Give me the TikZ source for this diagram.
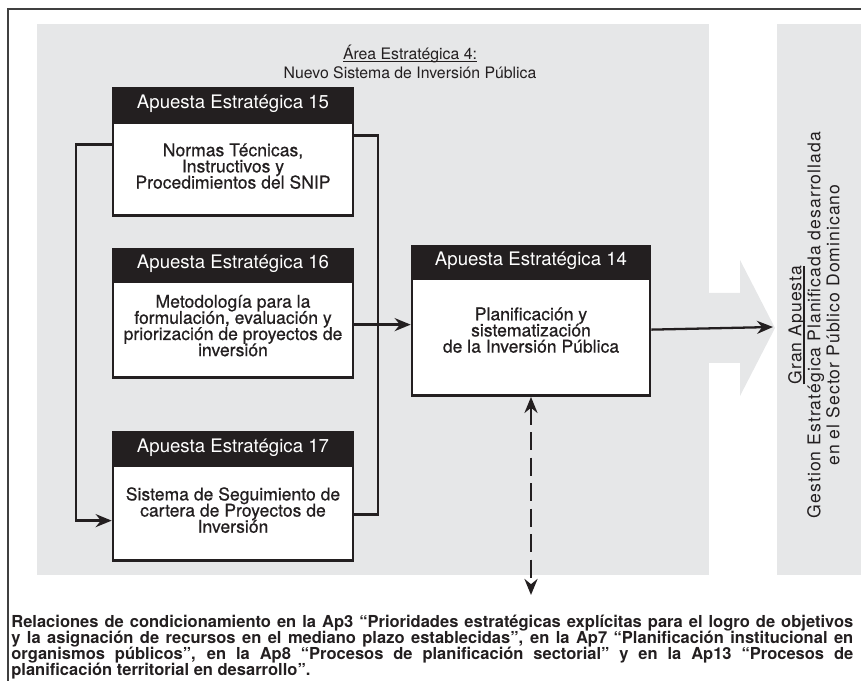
\documentclass[tikz,border=0pt]{standalone}
\usepackage{fontspec}
\setmainfont{TeX Gyre Heros}
\newfontfamily\medfont[FakeBold=0.6]{TeX Gyre Heros}
\newfontfamily\sidefont[LetterSpace=6]{TeX Gyre Heros}
\usetikzlibrary{arrows.meta,positioning}
\definecolor{panel}{RGB}{230,231,232}
\definecolor{ink}{RGB}{35,31,32}
\newcommand\tightlines{\lineskiplimit=-10pt\relax}
\newcommand\undl[1]{\setbox0\hbox{#1}\rlap{\rule[-1.9pt]{\wd0}{0.8pt}}\box0}
\tikzset{
  >={Stealth[length=3.2mm,width=2.6mm]},
  frame/.style={draw=black!75,line width=0.6pt},
  aphead/.style={fill=ink,draw=ink,line width=1.5pt,text=white,minimum width=48mm,
    minimum height=#1,inner sep=0pt,font=\fontsize{10.6}{12}\selectfont},
  aphead/.default=6.2mm,
  apbody/.style={fill=white,draw=ink,line width=1.5pt,minimum width=48mm,
    minimum height=#1,inner sep=0pt},
  apbody/.default=19mm,
  aptext/.style={align=center,inner sep=0pt,text=ink,
    font=\medfont\fontsize{10}{9.2}\selectfont\tightlines},
  link/.style={draw=ink,line width=1.3pt},
  dashlink/.style={draw=ink,line width=1.6pt,dash pattern=on 3.6mm off 1.5mm},
  title/.style={align=center,inner sep=0pt,text=ink,font=\fontsize{9}{10.8}\selectfont},
  side/.style={align=center,inner sep=0pt,text=ink,
    font=\sidefont\fontsize{10}{10.8}\selectfont\tightlines},
  note/.style={text width=16.84cm,align=justify,inner sep=0pt,text=ink,
    font=\bfseries\fontsize{9.4}{9.1}\selectfont\tightlines},
}
\begin{document}
\begin{tikzpicture}
  \useasboundingbox (0,0) rectangle (17.22,13.62);
  \draw[frame] (0.16,0) -- (0.16,13.44) -- (17.22,13.44);
  % grey areas
  \fill[panel] (0.74,2.12) rectangle (14.18,13.14);
  \fill[panel] (15.54,2.12) rectangle (17.22,13.14);
  \fill[panel] (14.17,7.76) -- (14.80,7.76) -- (14.80,8.42) -- (15.50,7.06)
    -- (14.80,5.70) -- (14.80,6.36) -- (14.17,6.36) -- cycle;
  \node[title] (area) at (8.20,12.39) {\undl{Área Estratégica 4:}\\Nuevo Sistema de Inversión Pública};
  % apuestas
  \node[aphead=6.4mm] (h15) at (4.66,11.54) {Apuesta Estratégica 15};
  \node[apbody=18.6mm,below=0pt of h15] (b15) {};
  \node[aptext] (t15) at ([yshift=0.6mm]b15.center) {Normas Técnicas,\\Instructivos y\\Procedimientos del SNIP};
  \node[aphead=6mm] (h16) at (4.66,8.34) {Apuesta Estratégica 16};
  \node[apbody=19.2mm,below=0pt of h16] (b16) {};
  \node[aptext] (t16) at ([yshift=0.8mm]b16.center) {Metodología para la\\formulación, evaluación y\\priorización de proyectos de\\inversión};
  \node[aphead] (h17) at (4.66,4.67) {Apuesta Estratégica 17};
  \node[apbody,below=0pt of h17] (b17) {};
  \node[aptext] (t17) at ([yshift=0.6mm]b17.center) {Sistema de Seguimiento de\\cartera de Proyectos de\\Inversión};
  \node[aphead=6mm,minimum width=47.6mm] (h14) at (10.62,8.40) {Apuesta Estratégica 14};
  \node[apbody=23.4mm,minimum width=47.6mm,below=0pt of h14] (b14) {};
  \node[aptext] (t14) at ([yshift=1.4mm]b14.center) {Planificación y\\sistematización\\de la Inversión Pública};
  % connectors
  \draw[link,->] ([yshift=4.9mm]b15.west) -- ++(-0.72,0) |- ([yshift=-1.5mm]b17.west);
  \draw[link] ([yshift=6.7mm]b15.east) -- ++(0.48,0) |- ([yshift=-0.3mm]b17.east);
  \draw[link,->] ([yshift=1mm]b16.east) -- ([yshift=1mm]b16.east -| b14.west);
  \coordinate (goal) at (15.46,7.08);
  \draw[link,->] ([yshift=1.5mm]b14.east) -- (goal);
  \node[side,rotate=90] (gran) at (16.28,7.12) {\undl{Gran Apuesta}\\Gestion Estratégica Planificada desarrollada\\en el Sector Público Dominicano};
  \node[note,anchor=north west] (rel) at (0.22,1.32) {Relaciones de condicionamiento en la Ap3 “Prioridades estratégicas explícitas para el logro de objetivos\linebreak
    y la asignación de recursos en el mediano plazo establecidas”, en la Ap7 “Planificación institucional en\linebreak
    organismos públicos”, en la Ap8 “Procesos de planificación sectorial” y en la Ap13 “Procesos de\linebreak
    planificación territorial en desarrollo”.};
  \coordinate (cond) at (10.62,1.72);
  \draw[dashlink,<->] (b14.south) -- (b14.south |- cond);
\end{tikzpicture}
\end{document}
